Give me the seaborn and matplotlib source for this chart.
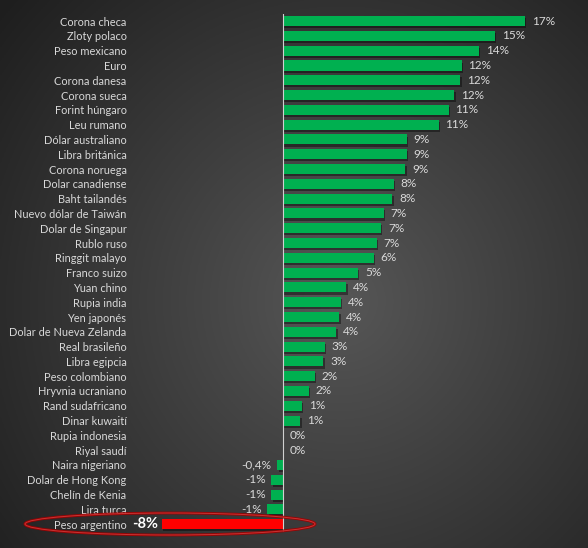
import numpy as np
import pandas as pd
import seaborn as sns
import matplotlib.pyplot as plt
from matplotlib.patches import Ellipse
import matplotlib.patheffects as pe

# data (variación % frente al dólar)
monedas = ["Corona checa", "Zloty polaco", "Peso mexicano", "Euro", "Corona danesa",
           "Corona sueca", "Forint húngaro", "Leu rumano", "Dólar australiano",
           "Libra británica", "Corona noruega", "Dolar canadiense", "Baht tailandés",
           "Nuevo dólar de Taiwán", "Dolar de Singapur", "Rublo ruso", "Ringgit malayo",
           "Franco suizo", "Yuan chino", "Rupia india", "Yen japonés",
           "Dolar de Nueva Zelanda", "Real brasileño", "Libra egipcia", "Peso colombiano",
           "Hryvnia ucraniano", "Rand sudafricano", "Dinar kuwaití", "Rupia indonesia",
           "Riyal saudí", "Naira nigeriano", "Dolar de Hong Kong", "Chelín de Kenia",
           "Lira turca", "Peso argentino"]
variacion = [16.8, 14.7, 13.6, 12.4, 12.3, 11.9, 11.5, 10.8, 8.6, 8.6, 8.5, 7.7, 7.6,
             7.0, 6.8, 6.5, 6.3, 5.2, 4.4, 4.0, 3.9, 3.7, 2.9, 2.8, 2.2, 1.8, 1.3, 1.2,
             0.0, 0.0, -0.4, -0.8, -0.8, -1.1, -8.4]
etiquetas = ["17%", "15%", "14%", "12%", "12%", "12%", "11%", "11%", "9%", "9%", "9%",
             "8%", "8%", "7%", "7%", "7%", "6%", "5%", "4%", "4%", "4%", "4%", "3%", "3%",
             "2%", "2%", "1%", "1%", "0%", "0%", "-0,4%", "-1%", "-1%", "-1%", "-8%"]

df = pd.DataFrame({"moneda": monedas, "variacion": variacion})
colores = ["#00B050"] * (len(monedas) - 1) + ["#FF0000"]

plt.rcParams['font.family'] = ['Lato', 'DejaVu Sans']

fig = plt.figure(figsize=(5.88, 5.48), dpi=100)

# dark radial background
bg = fig.add_axes([0, 0, 1, 1], zorder=-1)
yy, xx = np.mgrid[0:1:300j, 0:1:300j]
r = np.sqrt(((xx - 0.58) / 1.0) ** 2 + ((yy - 0.45) / 1.1) ** 2)
shade = np.clip(1 - r / 0.75, 0, 1)
grad = 0.12 + 0.22 * shade
bg.imshow(np.dstack([grad, grad, grad]), extent=[0, 1, 0, 1], aspect='auto', origin='lower')
bg.axis('off')

ax = fig.add_axes([0.2364, 0.030, 0.7347, 0.945])
ax.patch.set_alpha(0)
sns.barplot(data=df, x="variacion", y="moneda", hue="moneda", palette=colores,
            legend=False, width=0.68, saturation=1, ax=ax, orient="h")

for bar in ax.patches:
    bar.set_path_effects([pe.SimplePatchShadow(offset=(1.0, -1.5), shadow_rgbFace='black', alpha=0.4),
                          pe.Normal()])

ax.set_xlim(-10, 20)
ax.set_ylim(len(monedas) - 0.5, -0.5)
ax.axvline(0, color="#d0d0d0", lw=0.8)
for s in ax.spines.values():
    s.set_visible(False)
ax.set_xticks([])
ax.set_xlabel("")
ax.set_ylabel("")
ax.tick_params(axis="y", length=0, pad=9, labelsize=7.9, labelcolor="#d9d9d9")

for i, (v, t) in enumerate(zip(variacion, etiquetas)):
    if i == len(monedas) - 1:
        ax.annotate(t, (v, i), xytext=(-3, 0), textcoords="offset points", ha="right",
                    va="center", fontsize=10.5, fontweight="bold", color="white")
    elif v < 0:
        ax.annotate(t, (v, i), xytext=(-4, 0), textcoords="offset points", ha="right",
                    va="center", fontsize=8.5, color="#d9d9d9")
    else:
        ax.annotate(t, (v, i), xytext=(5, 0), textcoords="offset points", ha="left",
                    va="center", fontsize=8.5, color="#d9d9d9")

# red ellipse highlighting Peso argentino
for lw, col, a in [(2.0, "#a00000", 0.9), (0.7, "#ff6060", 0.5)]:
    fig.patches.append(Ellipse((170 / 588, 1 - 524 / 548), 290 / 588, 22 / 548,
                               transform=fig.transFigure, fill=False, lw=lw,
                               edgecolor=col, alpha=a, zorder=5))

fig.savefig("out.png", dpi=100)
